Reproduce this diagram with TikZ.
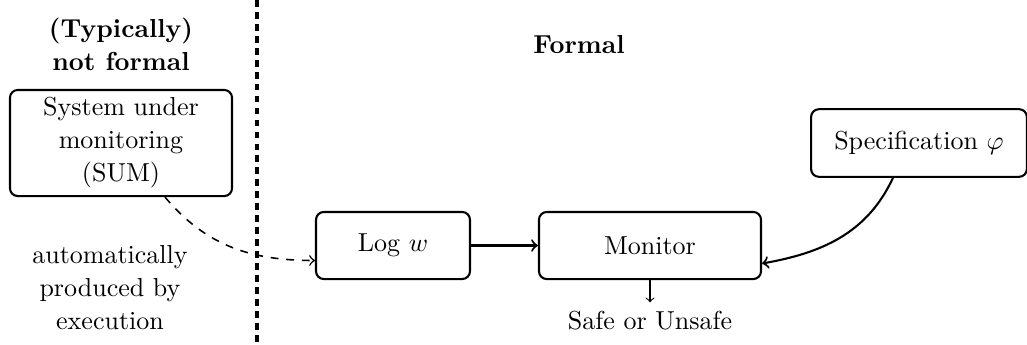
\documentclass[tikz,border=0pt]{standalone}
\usetikzlibrary{calc}
\begin{document}
\begin{tikzpicture}[x=0.3846pt,y=0.3846pt,
  txt/.style={align=center,font=\fontsize{10}{12.7}\selectfont},
  hd/.style={align=center,font=\fontsize{10}{12.7}\selectfont\bfseries},
  box/.style={draw,thick,rounded corners=3pt,align=center,inner sep=2pt,
    font=\fontsize{10}{12.7}\selectfont},
  conn/.style={thick,->},
  divider/.style={line width=1.2pt,dash pattern=on 2.6pt off 2pt}]
\useasboundingbox (0,0) rectangle (1027,-344);
\coordinate (dtop) at (257,0);
\coordinate (dbot) at (257,-344);
\draw[divider] (dtop) -- (dbot);
\node[hd] (nf) at (121,-44) {(Typically)\\not formal};
\node[hd] (formal) at (579,-45) {Formal};
\node[box,minimum width=85.4pt,minimum height=40.8pt] (sum) at (121,-143) {System under\\monitoring\\(SUM)};
\node[box,minimum width=59.2pt,minimum height=25.8pt] (log) at (393,-245.5) {Log $w$};
\node[box,minimum width=85.4pt,minimum height=25.8pt] (mon) at (650,-245.5) {Monitor};
\node[box,minimum width=83pt,minimum height=26pt] (spec) at (919,-143) {Specification $\varphi$};
\node[txt] (auto) at (110,-288) {automatically\\produced by\\execution};
\node[txt] (out) at (650,-321) {Safe or Unsafe};
\draw[semithick,dashed,->] ($(sum.south)+(44,0)$) to[out=-50,in=180] ($(log.west)+(0,-15)$);
\draw[conn] (log) -- (mon);
\draw[conn] ($(spec.south)+(-26,0)$) to[out=-115,in=10] ($(mon.east)+(0,-18)$);
\draw[->] (mon.south) -- (out.north);
\end{tikzpicture}
\end{document}
